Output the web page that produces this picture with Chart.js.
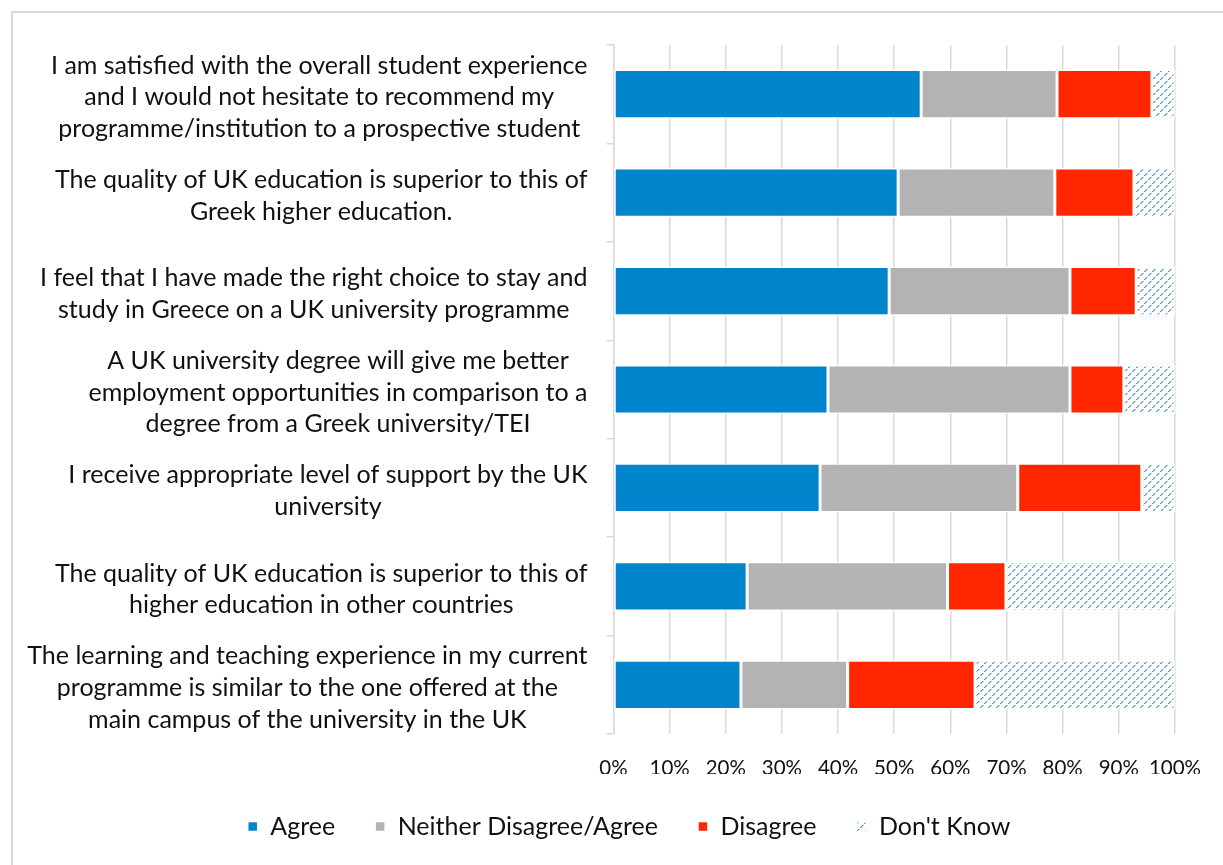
<!DOCTYPE html>
<html>
<head>
    <title>Student perceptions</title>
    <script src="https://cdn.jsdelivr.net/npm/chart.js"></script>
    <style>
        body { margin: 0; overflow: hidden; background: #fff; }
        .frame { position: absolute; left: 11px; top: 11px; width: 1400px; height: 1000px; border: 2px solid #d9d9d9; }
        #chart { position: absolute; left: 0; top: 0; }
    </style>
</head>
<body>
    <div class="frame"></div>
    <canvas id="chart" width="1223" height="865"></canvas>
    <script>
        // statements, top to bottom
        const statements = [
            ["I am satisfied with the overall student experience", "and I would not hesitate to recommend my", "programme/institution to a prospective student"],
            ["The quality of UK education is superior to this of", "Greek higher education."],
            ["I feel that I have made the right choice to stay and", "study in Greece on a UK university programme"],
            ["A UK university degree will give me better", "employment opportunities in comparison to a", "degree from a Greek university/TEI"],
            ["I receive appropriate level of support by the UK", "university"],
            ["The quality of UK education is superior to this of", "higher education in other countries"],
            ["The learning and teaching experience in my current", "programme is similar to the one offered at the", "main campus of the university in the UK"]
        ];
        // percentages
        const agree    = [54.8, 50.7, 49.1, 38.2, 36.8, 23.8, 22.7];
        const neither  = [24.2, 27.9, 32.2, 43.1, 35.2, 35.7, 19.0];
        const disagree = [16.9, 14.1, 11.8,  9.6, 22.1, 10.4, 22.7];
        const dontKnow = [ 4.1,  7.3,  6.9,  9.1,  5.9, 30.1, 35.6];
        const seriesNames = ["Agree", "Neither Disagree/Agree", "Disagree", "Don't Know"];

        const FONT = "Lato, 'Open Sans', sans-serif";

        // dashed upward diagonal hatch for "Don't Know"
        function hatch() {
            let c = document.createElement("canvas");
            c.width = 8; c.height = 8;
            let g = c.getContext("2d");
            g.fillStyle = "#fff";
            g.fillRect(0, 0, 8, 8);
            g.fillStyle = "#4f94d4";
            for (let i = 0; i < 8; i++) {
                if (i === 3 || i === 7) continue;
                g.fillRect(i, 7 - i, 1, 1);
            }
            g.fillStyle = "#a4c8ea";
            for (let i = 0; i < 8; i++) {
                if (i === 3 || i === 7) continue;
                g.fillRect((i + 1) % 8, 7 - i, 1, 1);
            }
            return g.createPattern(c, "repeat");
        }

        // y labels: each block centred on itself, right edge against the axis
        const labelPlugin = {
            id: "blockLabels",
            afterDraw(chart) {
                let ys = chart.scales.y;
                let ctx = chart.ctx;
                ctx.save();
                ctx.font = "25px " + FONT;
                ctx.fillStyle = "#111";
                ctx.textAlign = "center";
                ctx.textBaseline = "middle";
                let right = ys.right - 26;
                let lh = 31.7;
                statements.forEach((lines, i) => {
                    let w = Math.max(...lines.map(l => ctx.measureText(l).width));
                    let cx = right - w / 2;
                    let cy = ys.getPixelForValue(i) + 3;
                    let y0 = cy - (lines.length - 1) * lh / 2;
                    lines.forEach((l, k) => ctx.fillText(l, cx, y0 + k * lh));
                });
                ctx.restore();
            }
        };

        const colors = ["#0084cc", "#b3b3b3", "#ff2600", hatch()];
        const values = [agree, neither, disagree, dontKnow];

        new Chart(document.getElementById("chart"), {
            type: "bar",
            data: {
                labels: statements.map(s => s.join(" ")),
                datasets: seriesNames.map((name, k) => ({
                    label: name,
                    data: values[k],
                    backgroundColor: colors[k],
                    borderColor: "#fff",
                    borderWidth: 1.5,
                    borderSkipped: false,
                    barPercentage: 0.5,
                    categoryPercentage: 1
                }))
            },
            options: {
                indexAxis: "y",
                responsive: false,
                devicePixelRatio: 1,
                animation: false,
                layout: { padding: { left: 83, top: 45, right: 48, bottom: 16 } },
                scales: {
                    x: {
                        stacked: true,
                        min: 0, max: 100,
                        ticks: {
                            stepSize: 10,
                            callback: v => v + "%",
                            color: "#111",
                            font: { family: FONT, size: 20.5 },
                            padding: 22,
                            maxRotation: 0
                        },
                        grid: { color: "#d9d9d9", lineWidth: 1.5, drawTicks: false },
                        border: { display: false },
                        afterFit: s => { s.height = 40; }
                    },
                    y: {
                        stacked: true,
                        ticks: { display: false },
                        grid: { offset: true, drawOnChartArea: false, color: "#d9d9d9", lineWidth: 1.5, tickLength: 7 },
                        border: { color: "#d9d9d9", width: 1.5 },
                        afterFit: s => { s.width = 530.5; }
                    }
                },
                plugins: {
                    legend: {
                        position: "bottom",
                        labels: {
                            boxWidth: 10, boxHeight: 10,
                            padding: 40,
                            color: "#111",
                            font: { family: FONT, size: 25 }
                        }
                    },
                    tooltip: { enabled: false }
                }
            },
            plugins: [labelPlugin]
        });
    </script>
</body>
</html>
